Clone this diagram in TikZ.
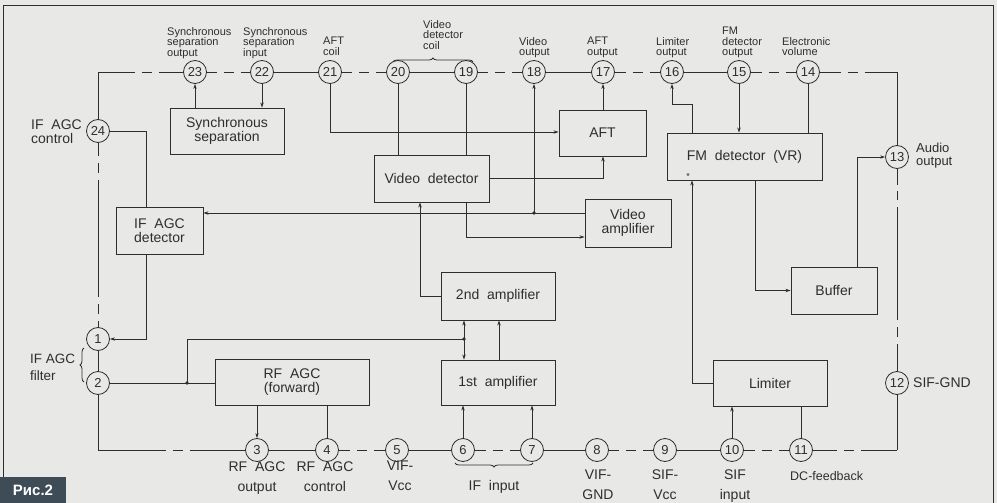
\documentclass[tikz,border=0pt]{standalone}
\usepackage{fontspec}
\setmainfont{Liberation Sans}
\usetikzlibrary{calc,arrows.meta,decorations.pathreplacing}
\definecolor{ink}{HTML}{2E2E2E}
\definecolor{paper}{HTML}{E8E8E6}
\definecolor{tagbg}{HTML}{3E4C58}
\tikzset{
  wire/.style={draw=ink, line width=0.8pt},
  arr/.style={wire, -{Stealth[length=5pt,width=3.4pt]}},
  darr/.style={wire, {Stealth[length=5pt,width=3.4pt]}-{Stealth[length=5pt,width=3.4pt]}},
  blk/.style={draw=ink, line width=0.9pt, inner sep=0pt, align=center, text=ink, font=\fontsize{14}{14.5}\selectfont},
  pin/.style={circle, draw=ink, line width=0.8pt, minimum size=23pt, inner sep=0pt, text=ink, font=\fontsize{13}{13}\selectfont},
  lbl/.style={inner sep=0pt, align=left, anchor=north west, text=ink, font=\fontsize{11}{10.6}\selectfont},
  blbl/.style={inner sep=0pt, align=center, anchor=north, text=ink, font=\fontsize{14}{20}\selectfont},
  sidelbl/.style={inner sep=0pt, align=left, text=ink},
  jdot/.style={circle, fill=ink, inner sep=0pt, minimum size=3.6pt},
  brc/.style={wire, decorate, decoration={brace, amplitude=4pt}},
}
\newcommand\hbrk[2]{%
  \draw[wire] (#1) -- ($(#1)!0.5!(#2)+(-12,0)$);
  \draw[wire] ($(#1)!0.5!(#2)+(-5,0)$) -- ($(#1)!0.5!(#2)+(5,0)$);
  \draw[wire] ($(#1)!0.5!(#2)+(12,0)$) -- (#2);}
\begin{document}
\begin{tikzpicture}[x=1pt,y=-1pt]
\useasboundingbox (0,0) rectangle (997,503);
\fill[paper] (0,0) rectangle (997,503);
\draw[ink, line width=0.9pt] (3,510) -- (3,5) -- (993,5) -- (993,510);

% pins top
\node[pin] (p23) at (195,72) {23};
\node[pin] (p22) at (262,72) {22};
\node[pin] (p21) at (330,72) {21};
\node[pin] (p20) at (398,72) {20};
\node[pin] (p19) at (466,72) {19};
\node[pin] (p18) at (534,72) {18};
\node[pin] (p17) at (603,72) {17};
\node[pin] (p16) at (672,72) {16};
\node[pin] (p15) at (739,72) {15};
\node[pin] (p14) at (808,72) {14};
% left / right
\node[pin] (p24) at (98,131) {24};
\node[pin] (p1) at (98,339) {1};
\node[pin] (p2) at (98,383) {2};
\node[pin] (p13) at (897,157) {13};
\node[pin] (p12) at (897,383) {12};
% bottom
\node[pin] (p3) at (257,450) {3};
\node[pin] (p4) at (327,450) {4};
\node[pin] (p5) at (397,450) {5};
\node[pin] (p6) at (463,450) {6};
\node[pin] (p7) at (532,450) {7};
\node[pin] (p8) at (597,450) {8};
\node[pin] (p9) at (665,450) {9};
\node[pin] (p10) at (732,450) {10};
\node[pin] (p11) at (801,450) {11};

\coordinate (cTL) at (98,72);
\coordinate (cTR) at (897,72);
\coordinate (cBL) at (98,450);
\coordinate (cBR) at (897,450);

% package outline
\hbrk{cTL}{p23}
\hbrk{p23}{p22}
\draw[wire] (p22) -- (p21);
\hbrk{p21}{p20}
\draw[wire] (p20) -- (p19);
\hbrk{p19}{p18}
\draw[wire] (p18) -- (p17);
\hbrk{p17}{p16}
\draw[wire] (p16) -- (p15);
\hbrk{p15}{p14}
\hbrk{p14}{cTR}
\draw[wire] (cTL) -- (p24);
\draw[wire] (p24) -- (98,156);
\draw[wire] (98,163) -- (98,173);
\draw[wire] (98,180) -- (98,297);
\draw[wire] (98,304) -- (98,314);
\draw[wire] (98,321) -- (p1);
\draw[wire] (p1) -- (p2);
\draw[wire] (p2) -- (cBL);
\hbrk{cBL}{p3}
\draw[wire] (p3) -- (p4);
\hbrk{p4}{p5}
\draw[wire] (p5) -- (p6);
\hbrk{p6}{p7}
\draw[wire] (p7) -- (p8);
\hbrk{p8}{p9}
\draw[wire] (p9) -- (p10);
\hbrk{p10}{p11}
\hbrk{p11}{cBR}
\draw[wire] (cBR) -- (p12);
\draw[wire] (p12) -- (897,344);
\draw[wire] (897,337) -- (897,327);
\draw[wire] (897,320) -- (897,207);
\draw[wire] (897,200) -- (897,191);
\draw[wire] (897,185) -- (p13);
\draw[wire] (p13) -- (cTR);

% blocks
\node[blk, minimum width=114pt, minimum height=46pt] (sync) at (227,131) {Synchronous\\separation};
\node[blk, minimum width=87pt, minimum height=47pt] (ifagc) at (159.5,230.5) {IF\ \ AGC\\detector};
\node[blk, minimum width=115pt, minimum height=47pt] (viddet) at (431.5,178.5) {Video\ \ detector};
\node[blk, minimum width=87pt, minimum height=46pt] (aft) at (602.5,133) {AFT};
\node[blk, minimum width=86pt, minimum height=48pt] (vamp) at (628,223) {Video\\amplifier};
\node[blk, minimum width=114pt, minimum height=48pt] (amp2) at (498,296) {2nd\ \ amplifier};
\node[blk, minimum width=114pt, minimum height=45pt] (amp1) at (498,382.5) {1st\ \ amplifier};
\node[blk, minimum width=154pt, minimum height=46pt] (rfagc) at (292,382) {RF\ \ AGC\\(forward)};
\node[blk, minimum width=155pt, minimum height=47pt] (fmdet) at (744.5,156.5) {FM\ \ detector\ \ (VR)};
\node[blk, minimum width=86pt, minimum height=47pt] (buffer) at (834,290.5) {Buffer};
\node[blk, minimum width=114pt, minimum height=46pt] (limiter) at (770,383) {Limiter};
\node[inner sep=0pt, text=ink, font=\fontsize{9}{9}\selectfont] (star) at (688,176) {*};

% helper coordinates
\coordinate (k1) at (146,131);
\coordinate (y132) at (0,132);
\coordinate (y213) at (0,213);
\coordinate (y237) at (0,237);
\coordinate (y104) at (0,104);
\coordinate (x420) at (420,0);
\coordinate (x464) at (464,0);
\coordinate (x499) at (499,0);
\coordinate (x692) at (692,0);
\coordinate (x755) at (755,0);
\coordinate (x857) at (857,0);
\coordinate (j1) at (464,339);
\coordinate (j2) at (187,383);
\coordinate (j3) at (534,213);

% connections
\draw[arr] (sync.north -| p23) -- (p23);
\draw[arr] (p22) -- (sync.north -| p22);
\draw[wire] (p24) -- (k1) -- (ifagc.north -| k1);
\draw[arr] (ifagc.south -| k1) |- (p1);
\draw[arr] (vamp.west |- y213) -- (ifagc.east |- y213);
\draw[arr] (j3) -- (p18);
\draw[arr] (viddet.south -| p19) |- (vamp.west |- y237);
\draw[arr] (p21) |- (aft.west |- y132);
\draw[arr] (aft.north -| p17) -- (p17);
\draw[wire] (p20) -- (viddet.north -| p20);
\draw[wire] (p19) -- (viddet.north -| p19);
\draw[arr] (viddet.east) -| (aft.south -| p17);
\draw[arr] (amp2.west) -| (viddet.south -| x420);
\draw[darr] (amp2.south -| x464) -- (amp1.north -| x464);
\draw[wire] (j1) -| (j2);
\draw[arr] (amp1.north -| x499) -- (amp2.south -| x499);
\draw[wire] (p2) -- (rfagc.west |- p2);
\draw[arr] (rfagc.south -| p3) -- (p3);
\draw[wire] (p4) -- (rfagc.south -| p4);
\draw[arr] (p6) -- (amp1.south -| p6);
\draw[arr] (p7) -- (amp1.south -| p7);
\draw[arr] (p10) -- (limiter.south -| p10);
\draw[wire] (p11) -- (limiter.south -| p11);
\draw[arr] (limiter.west) -| (fmdet.south -| x692);
\draw[arr] (fmdet.north -| x692) -- (x692 |- y104) -- (p16 |- y104) -- (p16);
\draw[arr] (p15) -- (fmdet.north -| p15);
\draw[wire] (p14) -- (fmdet.north -| p14);
\draw[arr] (fmdet.south -| x755) |- (buffer.west);
\draw[arr] (buffer.north -| x857) |- (p13);
\node[jdot] (d1) at (j3) {};
\node[jdot] (d2) at (j1) {};
\node[jdot] (d3) at (j2) {};

% braces
\draw[brc] (393,62) -- (473,62);
\draw[brc] (533,463) -- (455,463);
\draw[brc] (84,382) -- (84,348);

% top labels
\node[lbl] (t23) at (167,27) {Synchronous\\separation\\output};
\node[lbl] (t22) at (243,27) {Synchronous\\separation\\input};
\node[lbl] (t21) at (323,37) {AFT\\coil};
\node[lbl] (t20) at (423,20) {Video\\detector\\coil};
\node[lbl] (t18) at (519,37) {Video\\output};
\node[lbl] (t17) at (587,37) {AFT\\output};
\node[lbl] (t16) at (656,37) {Limiter\\output};
\node[lbl] (t15) at (722,27) {FM\\detector\\output};
\node[lbl] (t14) at (782,37) {Electronic\\volume};

% side labels
\node[sidelbl, anchor=north west, font=\fontsize{14}{13.5}\selectfont] (t24) at (31,120) {IF\ \ AGC\\control};
\node[sidelbl, anchor=north west, font=\fontsize{13.5}{17}\selectfont] (t12f) at (30,354) {IF AGC\\filter};
\node[sidelbl, anchor=north west, font=\fontsize{13}{13}\selectfont] (t13) at (916,143) {Audio\\output};
\node[sidelbl, anchor=west, font=\fontsize{14}{14}\selectfont] (t12) at (913,383) {SIF-GND};

% bottom labels
\node[blbl] (t3) at (257,462) {RF\ \ AGC\\output};
\node[blbl] (t4) at (325,462) {RF\ \ AGC\\control};
\node[blbl] (t5) at (400,461) {VIF-\\Vcc};
\node[blbl, anchor=center] (t67) at (494,487) {IF\ \ input};
\node[blbl] (t8) at (598,470) {VIF-\\GND};
\node[blbl] (t9) at (665,470) {SIF-\\Vcc};
\node[blbl] (t10) at (735,470) {SIF\\input};
\node[sidelbl, anchor=west, font=\fontsize{12.5}{12.5}\selectfont] (t11) at (790,476) {DC-feedback};

% figure tag
\fill[tagbg] (0,477) rectangle (66,503);
\node[text=white, inner sep=0pt, font=\bfseries\fontsize{15}{15}\selectfont] (tag) at (33,490) {Рис.2};
\end{tikzpicture}
\end{document}
